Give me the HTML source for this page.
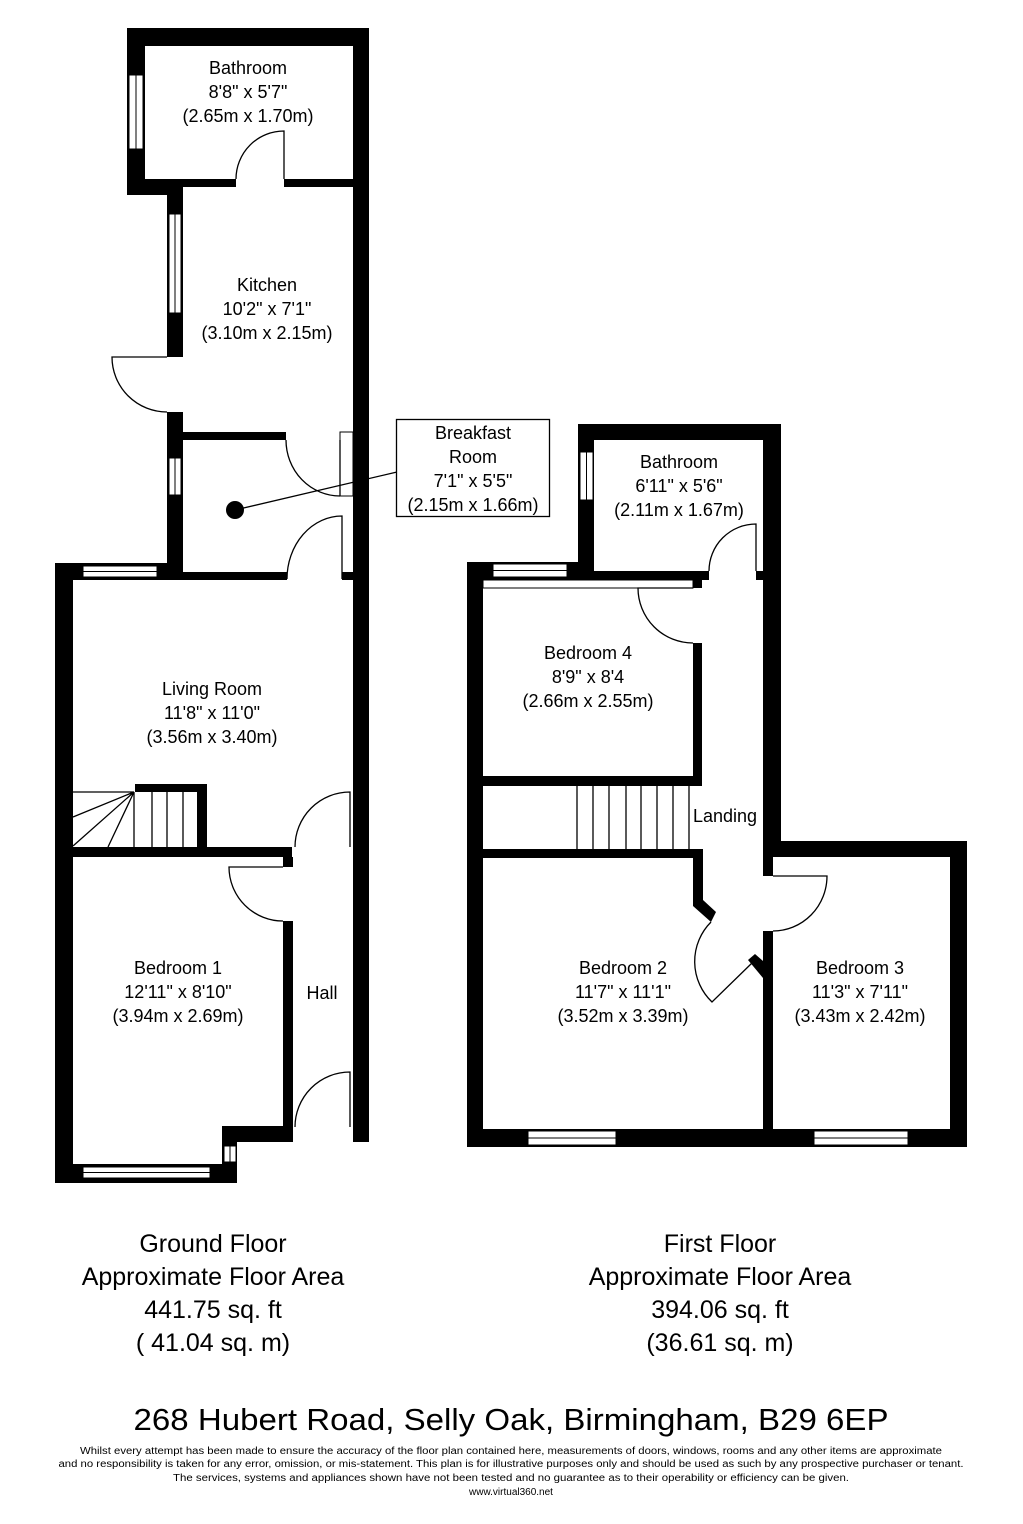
<!DOCTYPE html>
<html><head><meta charset="utf-8"><style>
html,body{margin:0;padding:0;background:#fff}
svg{display:block}
text{font-family:"Liberation Sans",Arial,sans-serif;fill:#000}
</style></head><body>
<svg width="1023" height="1524" viewBox="0 0 1023 1524" xmlns="http://www.w3.org/2000/svg">
<rect width="1023" height="1524" fill="#fff"/>
<g fill="#000">
<!-- Ground floor walls -->
<rect x="127" y="28" width="242" height="18"/>
<rect x="127" y="28" width="18" height="167"/>
<rect x="127" y="179" width="56" height="16"/>
<rect x="183" y="179" width="53" height="8"/>
<rect x="284" y="179" width="69" height="8"/>
<rect x="353" y="28" width="16" height="1114"/>
<rect x="167" y="179" width="16" height="178"/>
<rect x="167" y="412" width="16" height="168"/>
<rect x="183" y="432" width="103" height="8"/>
<rect x="55" y="563" width="128" height="17"/>
<rect x="183" y="572" width="104" height="8"/>
<rect x="342" y="572" width="11" height="8"/>
<rect x="55" y="563" width="18" height="620"/>
<rect x="135" y="784" width="72" height="8"/>
<rect x="197" y="784" width="10" height="63"/>
<rect x="55" y="847" width="237" height="10"/>
<rect x="283" y="857" width="10" height="10"/>
<rect x="283" y="921" width="10" height="221"/>
<rect x="222" y="1126" width="71" height="16"/>
<rect x="222" y="1126" width="15" height="57"/>
<rect x="55" y="1164" width="182" height="19"/>
<circle cx="235" cy="510" r="9"/>
<!-- First floor walls -->
<rect x="578" y="424" width="203" height="16"/>
<rect x="578" y="424" width="16" height="148"/>
<rect x="467" y="562" width="127" height="18"/>
<rect x="594" y="571" width="115" height="9"/>
<rect x="756" y="571" width="7" height="9"/>
<rect x="763" y="424" width="18" height="433"/>
<rect x="763" y="841" width="204" height="16"/>
<rect x="950" y="841" width="17" height="306"/>
<rect x="467" y="1129" width="500" height="18"/>
<rect x="467" y="562" width="16" height="585"/>
<rect x="693" y="580" width="9" height="8"/>
<rect x="693" y="643" width="9" height="143"/>
<rect x="483" y="776" width="219" height="10"/>
<rect x="483" y="849" width="219" height="9"/>
<polygon points="693,849 703,849 703,900 716,912 711,922 693,906"/>
<polygon points="748,960 755,954 763,961 763,978"/>
<rect x="763" y="857" width="10" height="19"/>
<rect x="763" y="931" width="10" height="198"/>
</g>
<!-- windows -->
<g fill="#fff" stroke="#000" stroke-width="1">
<rect x="129" y="75" width="14" height="74"/><line x1="136" y1="75" x2="136" y2="149"/>
<rect x="169" y="214" width="12" height="99"/><line x1="175" y1="214" x2="175" y2="313"/>
<rect x="169" y="458" width="12" height="37"/><line x1="175" y1="458" x2="175" y2="495"/>
<rect x="83" y="566" width="74" height="11"/><line x1="83" y1="571.5" x2="157" y2="571.5"/>
<rect x="83" y="1167" width="127" height="11"/><line x1="83" y1="1172.5" x2="210" y2="1172.5"/>
<rect x="224" y="1146" width="12" height="16"/><line x1="230" y1="1146" x2="230" y2="1162"/>
<rect x="580" y="452" width="13" height="48"/><line x1="586.5" y1="452" x2="586.5" y2="500"/>
<rect x="493" y="564" width="74" height="13"/><line x1="493" y1="570.5" x2="567" y2="570.5"/>
<rect x="528" y="1131" width="88" height="14"/><line x1="528" y1="1138" x2="616" y2="1138"/>
<rect x="814" y="1131" width="94" height="14"/><line x1="814" y1="1138" x2="908" y2="1138"/>
<rect x="340" y="432" width="13" height="64"/>
<rect x="483" y="580" width="210" height="8"/>
</g>
<!-- doors, stairs, lines -->
<g fill="none" stroke="#000" stroke-width="1.3">
<path d="M284 179 L284 131 A48 48 0 0 0 236 179"/>
<path d="M167 357 L112 357 A55 55 0 0 0 167 412"/>
<path d="M340 440 L340 496 M286 440 A54 56 0 0 0 340 496"/>
<path d="M342 579 L342 516 A55 63 0 0 0 287 579"/>
<path d="M350 847 L350 792 A55 55 0 0 0 295 847"/>
<path d="M283 867 L229 867 A54 54 0 0 0 283 921"/>
<path d="M350 1127 L350 1072 A55 55 0 0 0 295 1127"/>
<path d="M756 571 L756 524 A47 47 0 0 0 709 571"/>
<path d="M693 588 L638 588 A55 55 0 0 0 693 643"/>
<path d="M752 963 L712 1002 A56 56 0 0 1 711 922"/>
<path d="M773 876 L827 876 A54 55 0 0 1 773 931"/>
<!-- GF stairs -->
<path d="M134 792 L134 847 M152 792 L152 847 M167 792 L167 847 M183 792 L183 847"/>
<path d="M73 792 L134 792 M134 792 L73 817 M134 792 L73 846 M134 792 L108 847"/>
<!-- FF stairs -->
<path d="M577 786 L577 849 M593 786 L593 849 M609 786 L609 849 M626 786 L626 849 M641 786 L641 849 M657 786 L657 849 M673 786 L673 849 M689 786 L689 849"/>
<!-- pointer -->
<path d="M235 510 L397 472"/>
<rect x="396.5" y="419.5" width="153" height="97" fill="#fff"/>
</g>
<g font-size="18" text-anchor="middle">
<text x="248" y="74">Bathroom</text>
<text x="248" y="98">8'8" x 5'7"</text>
<text x="248" y="122">(2.65m x 1.70m)</text>
<text x="267" y="291">Kitchen</text>
<text x="267" y="315">10'2" x 7'1"</text>
<text x="267" y="339">(3.10m x 2.15m)</text>
<text x="473" y="439">Breakfast</text>
<text x="473" y="463">Room</text>
<text x="473" y="487">7'1" x 5'5"</text>
<text x="473" y="511">(2.15m x 1.66m)</text>
<text x="212" y="695">Living Room</text>
<text x="212" y="719">11'8" x 11'0"</text>
<text x="212" y="743">(3.56m x 3.40m)</text>
<text x="178" y="974">Bedroom 1</text>
<text x="178" y="998">12'11" x 8'10"</text>
<text x="178" y="1022">(3.94m x 2.69m)</text>
<text x="322" y="999">Hall</text>
<text x="679" y="468">Bathroom</text>
<text x="679" y="492">6'11" x 5'6"</text>
<text x="679" y="516">(2.11m x 1.67m)</text>
<text x="588" y="659">Bedroom 4</text>
<text x="588" y="683">8'9" x 8'4</text>
<text x="588" y="707">(2.66m x 2.55m)</text>
<text x="725" y="822">Landing</text>
<text x="623" y="974">Bedroom 2</text>
<text x="623" y="998">11'7" x 11'1"</text>
<text x="623" y="1022">(3.52m x 3.39m)</text>
<text x="860" y="974">Bedroom 3</text>
<text x="860" y="998">11'3" x 7'11"</text>
<text x="860" y="1022">(3.43m x 2.42m)</text>
</g>
<g font-size="25" text-anchor="middle">
<text x="213" y="1252">Ground Floor</text>
<text x="213" y="1285">Approximate Floor Area</text>
<text x="213" y="1318">441.75 sq. ft</text>
<text x="213" y="1351">( 41.04 sq. m)</text>
<text x="720" y="1252">First Floor</text>
<text x="720" y="1285">Approximate Floor Area</text>
<text x="720" y="1318">394.06 sq. ft</text>
<text x="720" y="1351">(36.61 sq. m)</text>
</g>
<text x="511" y="1430" font-size="31" text-anchor="middle" textLength="755" lengthAdjust="spacingAndGlyphs">268 Hubert Road, Selly Oak, Birmingham, B29 6EP</text>
<g font-size="10" text-anchor="middle">
<text x="511" y="1454" textLength="862" lengthAdjust="spacingAndGlyphs">Whilst every attempt has been made to ensure the accuracy of the floor plan contained here, measurements of doors, windows, rooms and any other items are approximate</text>
<text x="511" y="1467" textLength="905" lengthAdjust="spacingAndGlyphs">and no responsibility is taken for any error, omission, or mis-statement. This plan is for illustrative purposes only and should be used as such by any prospective purchaser or tenant.</text>
<text x="511" y="1481" textLength="676" lengthAdjust="spacingAndGlyphs">The services, systems and appliances shown have not been tested and no guarantee as to their operability or efficiency can be given.</text>
<text x="511" y="1495">www.virtual360.net</text>
</g>
</svg>
</body></html>
